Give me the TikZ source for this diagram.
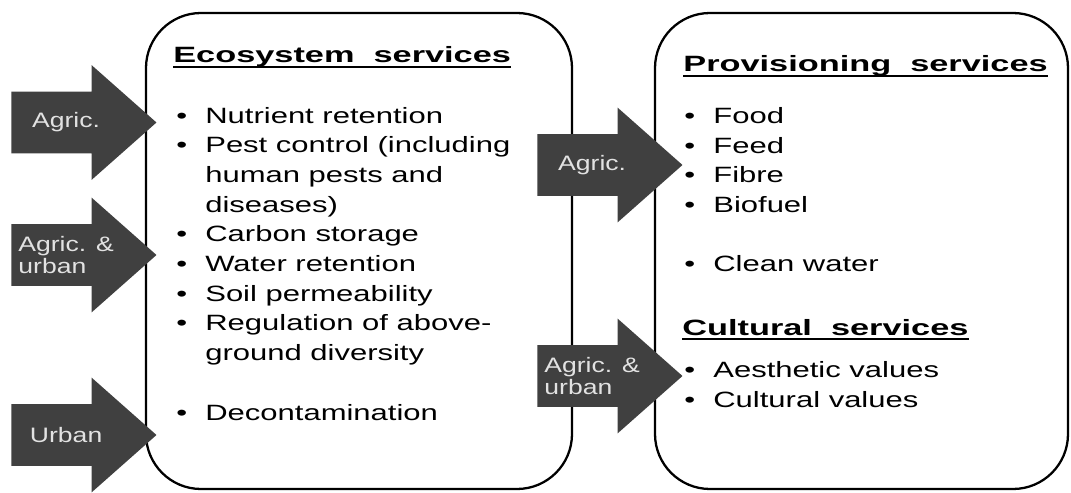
\documentclass[tikz,border=0pt]{standalone}
\usepackage{fontspec}
\setmainfont{Liberation Sans}
\newfontfamily\listfont{Liberation Sans}[FakeStretch=1.4]
\newfontfamily\headfont{Liberation Sans Bold}[FakeStretch=1.55]
\newfontfamily\tagfont{Liberation Sans}[FakeStretch=1.27]
\usepackage{xcolor}
\usepackage{tikz}
\usetikzlibrary{shapes.arrows}
\definecolor{arrowgray}{HTML}{404040}
\definecolor{taggray}{HTML}{E2E2E2}
\newcommand{\bul}{\makebox[0.58cm][l]{\textbullet}}
\newcommand{\ind}{\hspace*{0.58cm}}
\tikzset{
    svcbox/.style={rectangle, rounded corners=1.1cm, draw=black, line width=1.3pt, fill=white},
    heading/.style={anchor=base west, inner sep=0pt, font=\headfont\fontsize{12.6pt}{15pt}\selectfont},
    itemlist/.style={anchor=base west, inner sep=0pt, align=left, font=\listfont\fontsize{12.6pt}{16.9pt}\selectfont},
    bigarrow/.style={single arrow, fill=arrowgray, draw=none, inner xsep=0pt, inner ysep=0.61cm, single arrow head extend=0.53cm, single arrow tip angle=83, minimum height=2.9cm, anchor=tip},
    arrowtag/.style={text=taggray, align=left, inner sep=0pt, font=\tagfont\fontsize{11.9pt}{13pt}\selectfont},
    headline/.style={line width=1.1pt}
}

\begin{document}
\begin{tikzpicture}
  \useasboundingbox (0,0) rectangle (21.42,9.84);
  \node[svcbox, minimum width=8.52cm, minimum height=9.52cm] (eco) at (7.18,4.82) {};
  \node[svcbox, minimum width=8.26cm, minimum height=9.52cm] (prov) at (17.23,4.82) {};
  % lists are placed by the baseline of their last line
  \node[heading] (ecohead) at (3.46,8.58) {Ecosystem~ services};
  \node[itemlist] (ecolist) at (3.52,1.44) {\bul Nutrient retention\\
    \bul Pest control (including\\
    \ind human pests and\\
    \ind diseases)\\
    \bul Carbon storage\\
    \bul Water retention\\
    \bul Soil permeability\\
    \bul Regulation of above-\\
    \ind ground diversity\\[16.9pt]
    \bul Decontamination};
  \node[heading] (provhead) at (13.66,8.40) {Provisioning~ services};
  \node[itemlist] (provlist) at (13.68,4.40) {\bul Food\\
    \bul Feed\\
    \bul Fibre\\
    \bul Biofuel\\[16.9pt]
    \bul Clean water};
  \node[heading] (culthead) at (13.64,3.14) {Cultural~ services};
  \node[itemlist] (cultlist) at (13.68,1.70) {\bul Aesthetic values\\
    \bul Cultural values};
  \draw[headline] ([yshift=-0.08cm]ecohead.base west) -- ([yshift=-0.08cm]ecohead.base east);
  \draw[headline] ([yshift=-0.08cm]provhead.base west) -- ([yshift=-0.08cm]provhead.base east);
  \draw[headline] ([yshift=-0.08cm]culthead.base west) -- ([yshift=-0.08cm]culthead.base east);
  \node[bigarrow] (agr1) at (3.14,7.39) {};
  \node[bigarrow] (mix1) at (3.14,4.74) {};
  \node[bigarrow] (urb1) at (3.14,1.14) {};
  \node[bigarrow] (agr2) at (13.66,6.54) {};
  \node[bigarrow] (mix2) at (13.66,2.32) {};
  \node[arrowtag] (agr1tag) at ([xshift=1.1cm]agr1.tail) {Agric.};
  \node[arrowtag] (mix1tag) at ([xshift=1.1cm]mix1.tail) {Agric. \&\\urban};
  \node[arrowtag] (urb1tag) at ([xshift=1.1cm]urb1.tail) {Urban};
  \node[arrowtag] (agr2tag) at ([xshift=1.1cm]agr2.tail) {Agric.};
  \node[arrowtag] (mix2tag) at ([xshift=1.1cm]mix2.tail) {Agric. \&\\urban};
\end{tikzpicture}
\end{document}
